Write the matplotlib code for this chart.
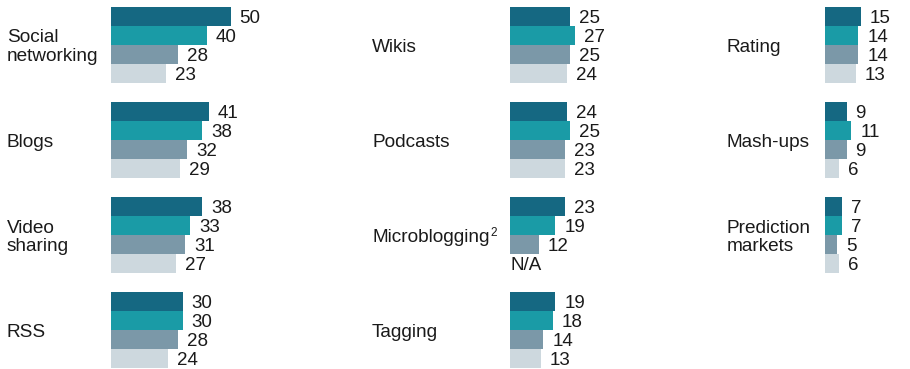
import matplotlib.pyplot as plt

plt.rcParams['font.family'] = ['Liberation Sans', 'DejaVu Sans']

# three columns of categories, four survey series per category
col1_names = ["Social\nnetworking", "Blogs", "Video\nsharing", "RSS"]
col1_vals = [[50, 40, 28, 23], [41, 38, 32, 29], [38, 33, 31, 27], [30, 30, 28, 24]]

col2_names = ["Wikis", "Podcasts", "Microblogging", "Tagging"]
col2_vals = [[25, 27, 25, 24], [24, 25, 23, 23], [23, 19, 12, None], [19, 18, 14, 13]]

col3_names = ["Rating", "Mash-ups", "Prediction\nmarkets"]
col3_vals = [[15, 14, 14, 13], [9, 11, 9, 6], [7, 7, 5, 6]]

colors = ["#156882", "#1a9ba6", "#7b98a8", "#cdd8de"]

W, H = 910, 369
px_per_unit = 2.39
bar_px = 19
fig = plt.figure(figsize=(W / 100, H / 100), dpi=100)

columns = [
    (col1_names, col1_vals, 111, 7),
    (col2_names, col2_vals, 510, 372),
    (col3_names, col3_vals, 825, 727),
]

top_px = 7
ax_h = H - top_px
for names, vals, bar_x, label_x in columns:
    ax_w = 240
    ax = fig.add_axes([bar_x / W, 0, ax_w / W, ax_h / H])
    ax.set_xlim(0, ax_w / px_per_unit)
    ax.set_ylim(ax_h / bar_px, 0)
    ax.axis("off")
    for g, (name, group) in enumerate(zip(names, vals)):
        for i, v in enumerate(group):
            y = g * 5 + i + 0.5
            if v is None:
                ax.annotate("N/A", xy=(0, y), xytext=(0, -1.5), textcoords="offset points",
                            ha="left", va="center", fontsize=13.5, color="#1a1a1a")
                continue
            ax.barh(y, v, height=1.0, color=colors[i], left=0)
            ax.annotate(str(v), xy=(v, y), xytext=(6.5, -1.5), textcoords="offset points",
                        ha="left", va="center", fontsize=13.5, color="#1a1a1a")
        lbl = ax.annotate(name, xy=(label_x / W, g * 5 + 2.12), xycoords=("figure fraction", "data"),
                          ha="left", va="center", fontsize=13.7, linespacing=1.12, color="#1a1a1a")
        if name == "Microblogging":
            ax.annotate("2", xy=(1, 0.78), xycoords=lbl, xytext=(1, 0), textcoords="offset points",
                        ha="left", va="center", fontsize=8.5, color="#1a1a1a")

fig.savefig("out.png", dpi=100)
